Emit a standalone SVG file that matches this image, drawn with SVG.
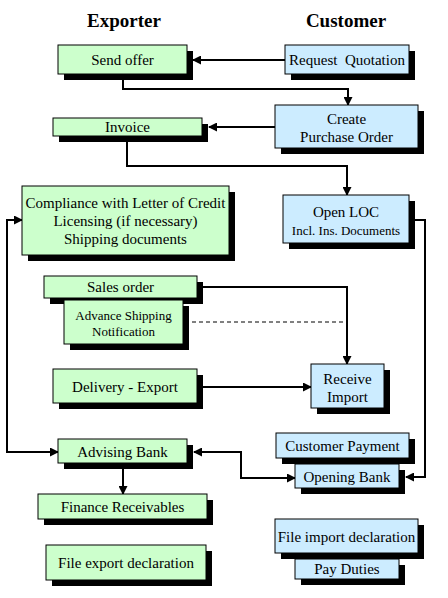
<svg xmlns="http://www.w3.org/2000/svg" width="448" height="598" viewBox="0 0 448 598" font-family="'Liberation Serif', 'Times New Roman', Times, serif">
<style>
.g{fill:#CCFFCC;stroke:#000;stroke-width:1}
.b{fill:#CCECFF;stroke:#000;stroke-width:1}
.s{fill:#000}
text{font-family:'Liberation Serif','Times New Roman',Times,serif;font-size:15px;fill:#000;text-anchor:middle;dominant-baseline:central;white-space:pre}
.sm{font-size:13px}
.t{font-size:19px;font-weight:bold}
.c{fill:none;stroke:#000;stroke-width:2}
.d{fill:none;stroke:#000;stroke-width:1;stroke-dasharray:4 3}
</style>
<defs>
<marker id="ah" markerUnits="userSpaceOnUse" markerWidth="9" markerHeight="9" refX="8" refY="4.5" orient="auto-start-reverse">
<path d="M0,0 L9,4.5 L0,9 z" fill="#000"/>
</marker>
</defs>
<rect width="448" height="598" fill="#fff"/>
<text class="t" x="124" y="20">Exporter</text>
<text class="t" x="346" y="20">Customer</text>

<g id="connectors">
<path class="c" d="M285,60 H193" marker-end="url(#ah)"/>
<path class="c" d="M123,74 V89 H348 V105" marker-end="url(#ah)"/>
<path class="c" d="M275,127 H209" marker-end="url(#ah)"/>
<path class="c" d="M127,136 V166 H347 V195" marker-end="url(#ah)"/>
<path class="c" d="M415,220 H425 V477 H406" marker-end="url(#ah)"/>
<path class="c" d="M58,452 H7 V220 H22" marker-start="url(#ah)" marker-end="url(#ah)"/>
<path class="c" d="M203,287 H347 V364" marker-end="url(#ah)"/>
<path class="d" d="M192,322 H347"/>
<path class="c" d="M203,387 H311" marker-end="url(#ah)"/>
<path class="c" d="M194,452 H241 V478 H295" marker-start="url(#ah)" marker-end="url(#ah)"/>
<path class="c" d="M123,468 V494" marker-end="url(#ah)"/>
</g>

<g id="send-offer"><rect class="s" x="64" y="51" width="129" height="29"/><rect class="g" x="58" y="45" width="129" height="29"/><text x="122.5" y="60">Send offer</text></g>
<g id="request-quotation"><rect class="s" x="291" y="51" width="124" height="29"/><rect class="b" x="285" y="45" width="124" height="29"/><text x="347" y="60" xml:space="preserve">Request  Quotation</text></g>
<g id="create-po"><rect class="s" x="281" y="111" width="143" height="43"/><rect class="b" x="275" y="105" width="143" height="43"/><text x="346.5" y="119">Create</text><text x="346.5" y="137">Purchase Order</text></g>
<g id="invoice"><rect class="s" x="59" y="124" width="149" height="18"/><rect class="g" x="53" y="118" width="149" height="18"/><text x="127.5" y="127">Invoice</text></g>
<g id="compliance"><rect class="s" x="28" y="192" width="207" height="69"/><rect class="g" x="22" y="186" width="207" height="69"/><text x="125.5" y="203">Compliance with Letter of Credit</text><text x="125.5" y="221">Licensing (if necessary)</text><text x="125.5" y="239">Shipping documents</text></g>
<g id="open-loc"><rect class="s" x="289" y="201" width="126" height="48"/><rect class="b" x="283" y="195" width="126" height="48"/><text x="346" y="212">Open LOC</text><text class="sm" x="346" y="230">Incl. Ins. Documents</text></g>
<g id="sales-order"><rect class="s" x="50" y="282" width="153" height="22"/><rect class="g" x="44" y="276" width="153" height="22"/><text x="120.5" y="287">Sales order</text></g>
<g id="asn"><rect class="s" x="70" y="306" width="119" height="44"/><rect class="g" x="64" y="300" width="119" height="44"/><text class="sm" x="123.5" y="315">Advance Shipping</text><text class="sm" x="123.5" y="331">Notification</text></g>
<g id="delivery-export"><rect class="s" x="59" y="375" width="144" height="34"/><rect class="g" x="53" y="369" width="144" height="34"/><text x="125" y="387">Delivery - Export</text></g>
<g id="receive-import"><rect class="s" x="317" y="370" width="73" height="44"/><rect class="b" x="311" y="364" width="73" height="44"/><text x="347.5" y="379">Receive</text><text x="347.5" y="397">Import</text></g>
<g id="customer-payment"><rect class="s" x="282" y="439" width="133" height="25"/><rect class="b" x="276" y="433" width="133" height="25"/><text x="342.5" y="446">Customer Payment</text></g>
<g id="opening-bank"><rect class="s" x="301" y="470" width="104" height="24"/><rect class="b" x="295" y="464" width="104" height="24"/><text x="347" y="477">Opening Bank</text></g>
<g id="advising-bank"><rect class="s" x="64" y="445" width="129" height="24"/><rect class="g" x="58" y="439" width="129" height="24"/><text x="122.5" y="452">Advising Bank</text></g>
<g id="finance-receivables"><rect class="s" x="44" y="500" width="169" height="25"/><rect class="g" x="38" y="494" width="169" height="25"/><text x="122.5" y="507">Finance Receivables</text></g>
<g id="file-export"><rect class="s" x="52" y="551" width="160" height="35"/><rect class="g" x="46" y="545" width="160" height="35"/><text x="126" y="563">File export declaration</text></g>
<g id="file-import"><rect class="s" x="281" y="525" width="143" height="34"/><rect class="b" x="275" y="519" width="143" height="34"/><text x="346.5" y="537">File import declaration</text></g>
<g id="pay-duties"><rect class="s" x="301" y="565" width="104" height="20"/><rect class="b" x="295" y="559" width="104" height="20"/><text x="347" y="569">Pay Duties</text></g>
</svg>
